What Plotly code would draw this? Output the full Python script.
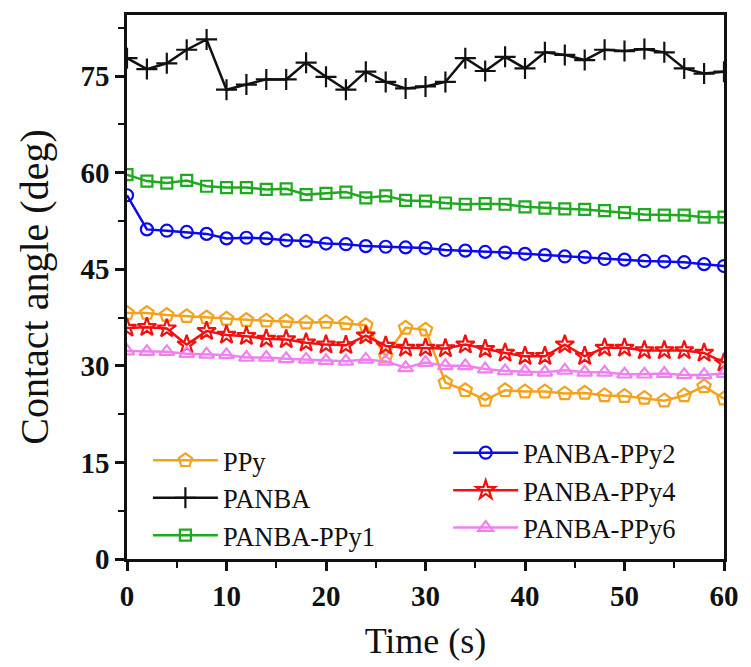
import plotly.graph_objects as go

time_s = list(range(0, 61, 2))

ppy = [38.2, 38.2, 37.9, 37.7, 37.5, 37.3, 37.1, 37.0, 36.9, 36.7, 36.8, 36.6, 36.3, 31.5, 35.9, 35.6,
       27.4, 26.2, 24.7, 26.2, 26.0, 26.0, 25.7, 25.8, 25.4, 25.3, 25.0, 24.6, 25.4, 26.8, 24.9]
panba = [77.8, 76.1, 77.0, 79.1, 80.7, 72.9, 73.7, 74.5, 74.5, 77.1, 74.9, 72.9, 75.7, 74.1, 73.1, 73.4,
         74.1, 77.8, 75.8, 78.0, 76.2, 78.7, 78.3, 77.5, 79.1, 78.9, 79.2, 78.7, 76.2, 75.4, 75.7]
ppy1 = [59.7, 58.7, 58.4, 58.8, 57.9, 57.7, 57.7, 57.4, 57.5, 56.6, 56.8, 57.0, 56.1, 56.4, 55.7, 55.6,
        55.3, 55.1, 55.2, 55.1, 54.7, 54.5, 54.4, 54.3, 54.1, 53.8, 53.5, 53.4, 53.4, 53.1, 53.1]
ppy2 = [56.5, 51.2, 51.0, 50.8, 50.5, 49.8, 49.9, 49.8, 49.5, 49.4, 49.0, 48.9, 48.6, 48.5, 48.4, 48.3,
        48.0, 47.9, 47.7, 47.6, 47.4, 47.2, 47.0, 46.9, 46.6, 46.5, 46.3, 46.2, 46.1, 45.8, 45.5]
ppy4 = [35.9, 36.0, 35.8, 33.3, 35.4, 34.8, 34.6, 34.2, 34.1, 33.6, 33.3, 33.2, 34.7, 33.1, 32.8, 32.8,
        32.7, 33.3, 32.6, 32.0, 31.5, 31.5, 33.3, 31.5, 32.8, 32.8, 32.4, 32.4, 32.4, 32.0, 30.5]
ppy6 = [32.3, 32.2, 32.2, 31.9, 31.8, 31.7, 31.3, 31.3, 31.1, 31.0, 30.8, 30.7, 31.0, 30.7, 29.7, 30.5,
        30.0, 30.0, 29.5, 29.2, 29.1, 29.0, 29.3, 29.0, 29.0, 28.7, 28.7, 28.8, 28.6, 28.6, 28.8]

x_ticks = [0, 10, 20, 30, 40, 50, 60]
y_ticks = [0, 15, 30, 45, 60, 75]

series = [
    ("PPy", ppy, "#F4A21C", "pentagon-open", 14, "legend"),
    ("PANBA", panba, "#111111", "cross-thin-open", 15, "legend"),
    ("PANBA-PPy1", ppy1, "#1EAA1E", "square-open", 11, "legend"),
    ("PANBA-PPy2", ppy2, "#0A0AF0", "circle-open", 12, "legend2"),
    ("PANBA-PPy4", ppy4, "#F21010", "star-open", 14, "legend2"),
    ("PANBA-PPy6", ppy6, "#F080F0", "triangle-up-open", 13, "legend2"),
]

fig = go.Figure()
for name, vals, color, sym, size, leg in series:
    fig.add_trace(go.Scatter(
        x=time_s, y=vals, name=name, mode="lines+markers",
        line=dict(color=color, width=2.5),
        marker=dict(symbol=sym, size=size, color=color, line=dict(color=color, width=2.2)),
        legend=leg,
    ))

serif = "Liberation Serif"
legend_common = dict(
    font=dict(family=serif, size=26.5, color="#111"),
    bgcolor="rgba(0,0,0,0)", tracegroupgap=0, itemwidth=65,
    xanchor="left", yanchor="top", traceorder="normal",
)

fig.update_layout(
    width=751, height=667,
    margin=dict(l=127, r=18, t=12, b=103),
    paper_bgcolor="white", plot_bgcolor="white",
    showlegend=True,
    legend=dict(x=0.035, y=0.225, **legend_common),
    legend2=dict(x=0.538, y=0.239, **legend_common),
    xaxis=dict(
        range=[0, 60], tickvals=x_ticks, ticks="outside", ticklen=9, tickwidth=2.5,
        tickcolor="#111", showline=True, linewidth=2.5, linecolor="#111", mirror=True,
        showgrid=False, zeroline=False,
        tickfont=dict(family=serif, size=29, color="#111", weight="bold"),
        minor=dict(tickvals=[5, 15, 25, 35, 45, 55], ticks="outside", ticklen=6, tickwidth=2, tickcolor="#111"),
        title=dict(text="Time (s)", font=dict(family=serif, size=36, color="#111"), standoff=18),
    ),
    yaxis=dict(
        range=[0, 84.5], tickvals=y_ticks, ticks="outside", ticklen=9, tickwidth=2.5,
        tickcolor="#111", showline=True, linewidth=2.5, linecolor="#111", mirror=True,
        showgrid=False, zeroline=False,
        tickfont=dict(family=serif, size=29, color="#111", weight="bold"),
        minor=dict(tickvals=[7.5, 22.5, 37.5, 52.5, 67.5, 82.5], ticks="outside", ticklen=6, tickwidth=2, tickcolor="#111"),
        title=dict(text="Contact angle (deg)", font=dict(family=serif, size=40, color="#111"), standoff=20),
    ),
)

fig.write_html("out.html")
